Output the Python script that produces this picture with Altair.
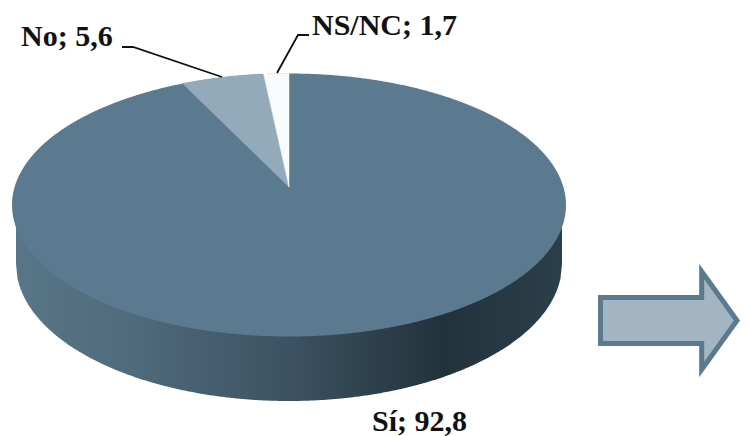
import numpy as np
import pandas as pd
import altair as alt

# Chart values
categories = ["Sí", "No", "NS/NC"]
values = [92.8, 5.6, 1.7]
label_x = [372, 21, 312]
label_y = [431, 46, 35]
sector_colors = {"No": "#92aaba", "NS/NC": "#f8fafb"}

MAIN = "#5b7a90"
FONT = "Liberation Serif"

# Pie geometry (pixel space of the picture)
cx, cy, rx, ry = 289.0, 205.0, 277.0, 131.5
apex_y = 187.0
side_cy, side_rx, side_ry = 264.0, 273.0, 137.0
persp = 0.86  # perspective foreshortening of the angle near the back edge

X = alt.X("x:Q", scale=alt.Scale(domain=[8, 741], range=[0, 733]), axis=None)
Y = alt.Y("y:Q", scale=alt.Scale(domain=[8, 436], range=[0, 428]), axis=None)
Y2 = alt.Y2("y2:Q")

# Side wall
sx = np.linspace(289 - side_rx, 289 + side_rx, 361)
side = pd.DataFrame({
    "x": sx,
    "y": 205.0,
    "y2": side_cy + side_ry * np.sqrt(np.clip(1 - ((sx - 289) / side_rx) ** 2, 0, 1)),
})
side_layer = alt.Chart(side).mark_area(
    clip=False,
    fill=alt.Gradient(
        gradient="linear", x1=0, x2=1, y1=0, y2=0,
        stops=[
            alt.GradientStop(offset=0.0, color="#587688"),
            alt.GradientStop(offset=0.22, color="#4f6a7b"),
            alt.GradientStop(offset=0.5, color="#3c5262"),
            alt.GradientStop(offset=0.78, color="#22323b"),
            alt.GradientStop(offset=1.0, color="#2b3f4a"),
        ],
    ),
).encode(x=X, y=Y, y2=Y2)

# Top face
fx = cx + rx * np.cos(np.linspace(np.pi, 0, 721))
h = ry * np.sqrt(np.clip(1 - ((fx - cx) / rx) ** 2, 0, 1))
face = pd.DataFrame({"x": fx, "y": cy - h, "y2": cy + h})
face_layer = alt.Chart(face).mark_area(fill=MAIN, clip=False).encode(x=X, y=Y, y2=Y2)

# Small sectors, counter-clockwise from the 12 o'clock point
total = sum(values)
rows = []
start = 0.0
for cat, val in zip(reversed(categories[1:]), reversed(values[1:])):
    end = start + val / total * 2 * np.pi
    ts = np.linspace(start, end, 24) * persp
    xs = [cx] + list(cx - rx * np.sin(ts))
    ys = [apex_y] + list(cy - ry * np.cos(ts))
    for i, (a, b) in enumerate(zip(xs, ys)):
        rows.append({"cat": cat, "x": a, "y": b, "i": i})
    start = end
sectors = pd.DataFrame(rows)
sector_layers = [
    alt.Chart(sectors[sectors.cat == c]).mark_line(
        interpolate="linear-closed", fill=col, stroke=col, strokeWidth=0.5, clip=False
    ).encode(x=X, y=Y, order="i:Q")
    for c, col in sector_colors.items()
]

# Leader lines
leader_a = pd.DataFrame({"x": [122, 133, 222], "y": [47, 47, 77], "i": [0, 1, 2]})
leader_b = pd.DataFrame({"x": [309, 298, 277], "y": [35, 35, 73], "i": [0, 1, 2]})
leaders = [
    alt.Chart(d).mark_line(color="#111111", strokeWidth=1.8, clip=False).encode(x=X, y=Y, order="i:Q")
    for d in (leader_a, leader_b)
]

# Labels
labels = pd.DataFrame({
    "text": [f"{c}; {str(v).replace('.', ',')}" for c, v in zip(categories, values)],
    "x": label_x,
    "y": label_y,
})
label_layer = alt.Chart(labels).mark_text(
    font=FONT, fontSize=30, fontWeight="bold", align="left", baseline="alphabetic",
    color="#111111", clip=False,
).encode(x=X, y=Y, text="text:N")

# Block arrow, as a symbol
arrow_path = "M-0.965,-0.32 L0.44,-0.32 L0.44,-0.68 L0.93,0 L0.44,0.68 L0.44,0.32 L-0.965,0.32 Z"
arrow = alt.Chart(pd.DataFrame({"x": [670], "y": [320.5]})).mark_point(
    shape=arrow_path, size=144 ** 2 * 1.0, filled=True, fill="#a3b5c2", stroke=MAIN,
    strokeWidth=5, opacity=1, clip=False,
).encode(x=X, y=Y)

chart = alt.layer(
    side_layer, face_layer, *sector_layers, *leaders, label_layer, arrow
).properties(
    width=733, height=428, padding=0, autosize="none"
).configure_view(stroke=None)

chart.save("out.html", embed_options={"renderer": "svg", "actions": False})
